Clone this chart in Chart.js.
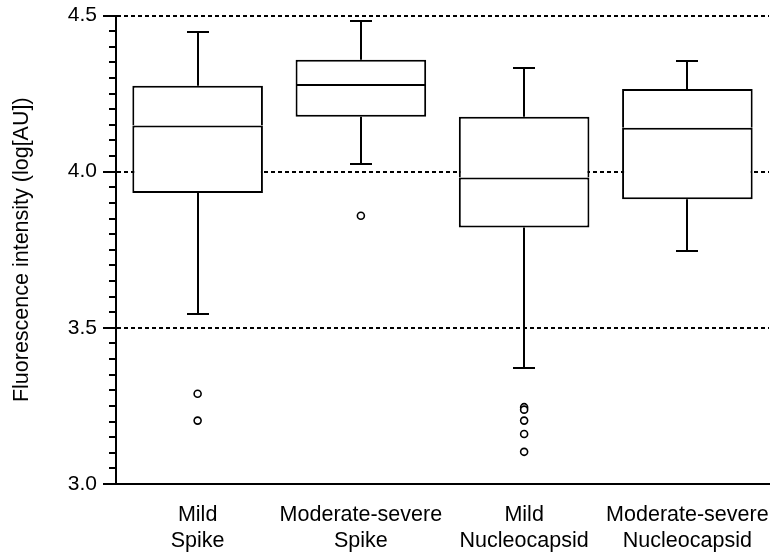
<!DOCTYPE html>
<html>
<head>
<meta charset="utf-8">
<script src="https://cdn.jsdelivr.net/npm/chart.js@4/dist/chart.umd.min.js"></script>
<style>
  html, body { margin: 0; padding: 0; background: #fff; }
  #wrap { width: 771px; height: 556px; }
</style>
</head>
<body>
<div id="wrap"><canvas id="boxChart"></canvas></div>
<script>
// box plot data
const categories = ['Mild Spike', 'Moderate-severe Spike', 'Mild Nucleocapsid', 'Moderate-severe Nucleocapsid'];
const severity = ['Mild', 'Moderate-severe', 'Mild', 'Moderate-severe'];
const antigen = ['Spike', 'Spike', 'Nucleocapsid', 'Nucleocapsid'];
const whiskerLow = [3.545, 4.023, 3.370, 3.745];
const q1 = [3.932, 4.176, 3.821, 3.912];
const median = [4.148, 4.281, 3.981, 4.141];
const q3 = [4.275, 4.358, 4.176, 4.265];
const whiskerHigh = [4.447, 4.483, 4.332, 4.354];
const outlierGroup = [0, 0, 1, 2, 2, 2, 2, 2];
const outlierValue = [3.289, 3.203, 3.859, 3.246, 3.238, 3.203, 3.160, 3.103];
const yTicks = [3.0, 3.5, 4.0, 4.5];

const FONT = 'Liberation Sans, Arial, Helvetica, sans-serif';
const isMajor = v => yTicks.some(t => Math.abs(t - v) < 1e-6);

// whiskers + caps, drawn through the scales
const whiskerPlugin = {
    id: 'whiskers',
    beforeDatasetsDraw(chart) {
        const { ctx, scales: { x, y } } = chart;
        const cap = 11;
        ctx.save();
        ctx.strokeStyle = '#000';
        ctx.lineWidth = 2;
        categories.forEach((c, i) => {
            const px = Math.round(x.getPixelForValue(i));
            [[q3[i], whiskerHigh[i]], [q1[i], whiskerLow[i]]].forEach(([from, to]) => {
                const y0 = y.getPixelForValue(from);
                const y1 = Math.round(y.getPixelForValue(to));
                ctx.beginPath();
                ctx.moveTo(px, y0);
                ctx.lineTo(px, y1);
                ctx.moveTo(px - cap, y1);
                ctx.lineTo(px + cap, y1);
                ctx.stroke();
            });
        });
        ctx.restore();
    }
};

// y tick marks: long at labelled values, short every 0.05
const tickMarks = {
    id: 'tickMarks',
    afterDraw(chart) {
        const { ctx } = chart;
        const y = chart.scales.y;
        ctx.save();
        ctx.strokeStyle = '#000';
        ctx.lineWidth = 2;
        y.ticks.forEach(t => {
            const py = Math.round(y.getPixelForValue(t.value));
            const len = isMajor(t.value) ? 13 : 7;
            ctx.beginPath();
            ctx.moveTo(y.right - len, py);
            ctx.lineTo(y.right, py);
            ctx.stroke();
        });
        ctx.restore();
    }
};

const boxStyle = {
    type: 'bar',
    backgroundColor: '#fff',
    borderColor: '#000',
    borderWidth: 2,
    grouped: false,
    categoryPercentage: 1,
    barPercentage: 0.8
};

new Chart(document.getElementById('boxChart'), {
    type: 'bar',
    data: {
        labels: categories,
        datasets: [
            { ...boxStyle, label: 'lower box', borderSkipped: false, data: categories.map((c, i) => [q1[i], median[i]]) },
            { ...boxStyle, label: 'upper box', borderSkipped: 'bottom', data: categories.map((c, i) => [median[i], q3[i]]) },
            {
                type: 'line',
                label: 'outliers',
                data: outlierValue.map((v, k) => ({ x: categories[outlierGroup[k]], y: v })),
                showLine: false,
                pointRadius: 3.5,
                pointBorderWidth: 1.6,
                pointBackgroundColor: '#fff',
                pointBorderColor: '#000'
            }
        ]
    },
    options: {
        responsive: true,
        maintainAspectRatio: false,
        animation: false,
        layout: { autoPadding: false, padding: { top: 15.5, right: 2, left: 0, bottom: 0 } },
        plugins: { legend: { display: false }, tooltip: { enabled: false } },
        scales: {
            x: {
                offset: true,
                grid: { display: false, drawTicks: false },
                border: { display: true, color: '#000', width: 2 },
                ticks: {
                    color: '#000',
                    font: { family: FONT, size: 21.5 },
                    padding: 18,
                    maxRotation: 0,
                    autoSkip: false,
                    callback: (v, i) => [severity[i], antigen[i]]
                },
                afterFit: s => { s.height = 72; s.paddingLeft = 0; s.paddingRight = 0; }
            },
            y: {
                min: 3,
                max: 4.5,
                border: { display: true, color: '#000', width: 2, dash: [4, 3] },
                grid: {
                    drawTicks: false,
                    lineWidth: 2,
                    color: ctx => (isMajor(ctx.tick.value) && ctx.tick.value > 3) ? '#000' : 'rgba(0,0,0,0)'
                },
                ticks: {
                    stepSize: 0.05,
                    autoSkip: false,
                    color: '#000',
                    padding: 19,
                    font: { family: FONT, size: 21 },
                    callback: v => isMajor(v) ? v.toFixed(1) : ''
                },
                title: {
                    display: true,
                    text: 'Fluorescence intensity (log[AU])',
                    color: '#000',
                    font: { family: FONT, size: 21.5 },
                    padding: { top: 9, bottom: 0 }
                },
                afterFit: s => { s.width = 116; s.paddingTop = 0; s.paddingBottom = 0; }
            }
        }
    },
    plugins: [whiskerPlugin, tickMarks]
});
</script>
</body>
</html>
